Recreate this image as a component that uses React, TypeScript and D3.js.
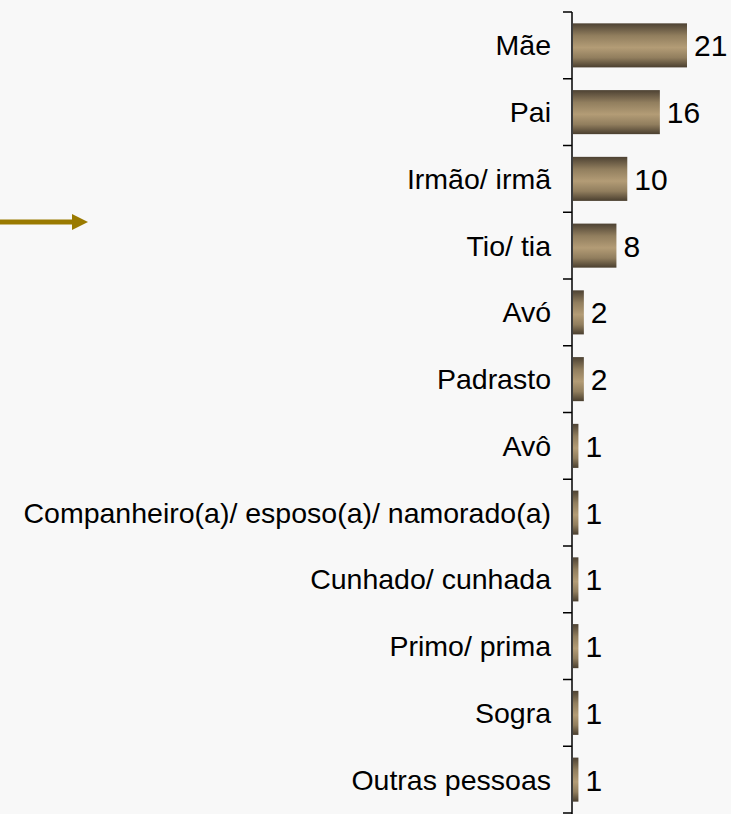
import * as d3 from "d3";

const categories = [
  "Mãe",
  "Pai",
  "Irmão/ irmã",
  "Tio/ tia",
  "Avó",
  "Padrasto",
  "Avô",
  "Companheiro(a)/ esposo(a)/ namorado(a)",
  "Cunhado/ cunhada",
  "Primo/ prima",
  "Sogra",
  "Outras pessoas",
];
const values = [21, 16, 10, 8, 2, 2, 1, 1, 1, 1, 1, 1];

const W = 731;
const H = 814;
const axisX = 572;
const font = "'Liberation Sans', Arial, sans-serif";

export default function App() {
  const x = d3.scaleLinear().domain([0, 21]).range([axisX, 686]);
  const y = d3
    .scaleBand()
    .domain(categories)
    .range([12, 813])
    .paddingInner(0.34)
    .paddingOuter(0.17);
  const step = y.step();
  // tick positions sit on the band boundaries
  const ticks = d3.range(categories.length + 1).map((i) => 12 + i * step);

  return (
    <svg
      width={W}
      height={H}
      style={{ position: "absolute", left: 0, top: 0 }}
    >
      <defs>
        <linearGradient id="barGrad" x1="0" y1="0" x2="0" y2="1">
          <stop offset="0%" stopColor="#4d4233" />
          <stop offset="28%" stopColor="#917e5e" />
          <stop offset="55%" stopColor="#b39c76" />
          <stop offset="78%" stopColor="#917e5e" />
          <stop offset="100%" stopColor="#4a3f2f" />
        </linearGradient>
      </defs>
      <rect width={W} height={H} fill="#f8f8f8" />

      {/* arrow */}
      <line x1={0} x2={74} y1={222} y2={222} stroke="#9a7a00" strokeWidth={5} />
      <path d="M72,214 L88,222 L72,230 Z" fill="#9a7a00" />

      {categories.map((c, i) => {
        const cy = y(c) + y.bandwidth() / 2;
        return (
          <g key={c}>
            <rect
              x={x(0) + 1}
              y={y(c)}
              width={x(values[i]) - x(0)}
              height={y.bandwidth()}
              fill="url(#barGrad)"
            />
            <text
              x={551}
              y={cy + 10}
              textAnchor="end"
              fontFamily={font}
              fontSize={28.5}
              fill="#000"
            >
              {c}
            </text>
            <text
              x={x(values[i]) + 8}
              y={cy + 11}
              fontFamily={font}
              fontSize={30}
              fill="#000"
            >
              {values[i]}
            </text>
          </g>
        );
      })}

      <line x1={axisX} x2={axisX} y1={12} y2={H} stroke="#000" strokeWidth={1.5} />
      {ticks.map((t, i) => (
        <line key={i} x1={axisX - 9} x2={axisX} y1={t} y2={t} stroke="#000" strokeWidth={1.5} />
      ))}
    </svg>
  );
}
